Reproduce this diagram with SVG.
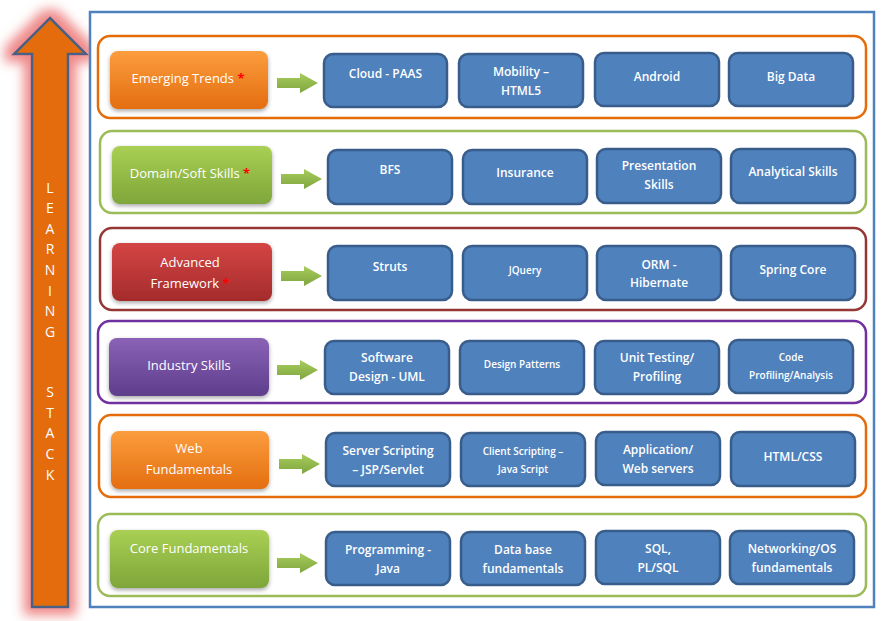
<svg xmlns="http://www.w3.org/2000/svg" width="887" height="621" viewBox="0 0 887 621">
<defs>
<style>
.band{fill:#fff;stroke-width:2.5}
.lbl{stroke:none;filter:url(#shadow)}
.lt{font-family:"Open Sans","Liberation Sans",sans-serif;font-size:13px;fill:#fff;text-anchor:middle}
.ast{fill:#ff0000;font-weight:bold}
.bb{fill:#4f81bd;stroke:#385d8a;stroke-width:2.5}
.bt{font-family:"Open Sans","Liberation Sans",sans-serif;font-size:12px;font-weight:600;fill:#fff;text-anchor:middle}
.bs{font-size:10px}
.arr{fill:url(#gArr)}
.stack{font-family:"Open Sans","Liberation Sans",sans-serif;font-size:14px;fill:#fff;text-anchor:middle}
</style>
<linearGradient id="gOr" x1="0" y1="0" x2="0" y2="1"><stop offset="0" stop-color="#fb9d3e"/><stop offset="1" stop-color="#e46e10"/></linearGradient>
<linearGradient id="gGr" x1="0" y1="0" x2="0" y2="1"><stop offset="0" stop-color="#a9cf53"/><stop offset="1" stop-color="#7ea63a"/></linearGradient>
<linearGradient id="gRd" x1="0" y1="0" x2="0" y2="1"><stop offset="0" stop-color="#d44545"/><stop offset="1" stop-color="#a42b2b"/></linearGradient>
<linearGradient id="gPu" x1="0" y1="0" x2="0" y2="1"><stop offset="0" stop-color="#8a62b6"/><stop offset="1" stop-color="#5e3e8c"/></linearGradient>
<linearGradient id="gArr" x1="0" y1="0" x2="0" y2="1"><stop offset="0" stop-color="#a8cc5c"/><stop offset="1" stop-color="#7ea53f"/></linearGradient>
<filter id="shadow" x="-10%" y="-20%" width="120%" height="150%">
<feDropShadow dx="0" dy="2" stdDeviation="2" flood-color="#000" flood-opacity="0.35"/>
</filter>
<filter id="glow" x="-70%" y="-10%" width="240%" height="120%">
<feMorphology in="SourceAlpha" operator="dilate" radius="7" result="d"/>
<feGaussianBlur in="d" stdDeviation="6" result="b"/>
<feFlood flood-color="#ee8282" flood-opacity="0.95"/>
<feComposite in2="b" operator="in" result="g"/>
<feMerge><feMergeNode in="g"/><feMergeNode in="SourceGraphic"/></feMerge>
</filter>
<path id="garrow" d="M0,-5 L23,-5 L23,-10 L41,0 L23,10 L23,5 L0,5 Z"/>
</defs>

<g id="learning-stack">
<path d="M50,18 L86,54 L68,54 L68,607 L32,607 L32,54 L14,54 Z" fill="#e46c0a" stroke="#4a6186" stroke-width="2.5" filter="url(#glow)"/>
<text class="stack" x="50" y="193">L</text>
<text class="stack" x="50" y="213">E</text>
<text class="stack" x="50" y="234">A</text>
<text class="stack" x="50" y="254">R</text>
<text class="stack" x="50" y="275">N</text>
<text class="stack" x="50" y="296">I</text>
<text class="stack" x="50" y="316">N</text>
<text class="stack" x="50" y="337">G</text>
<text class="stack" x="50" y="397">S</text>
<text class="stack" x="50" y="418">T</text>
<text class="stack" x="50" y="438">A</text>
<text class="stack" x="50" y="459">C</text>
<text class="stack" x="50" y="480">K</text>
</g>

<g id="frame">
<rect x="90" y="12" width="784" height="595" fill="#fff" stroke="#4f81bd" stroke-width="2.5"/>
</g>

<g id="band-emerging">
<rect class="band" x="98" y="36" width="768" height="82" rx="12" stroke="#e46c0a"/>
</g>
<g id="band-domain">
<rect class="band" x="100" y="131" width="766" height="82" rx="12" stroke="#9bbb59"/>
</g>
<g id="band-advanced">
<rect class="band" x="100" y="228" width="766" height="82" rx="12" stroke="#953735"/>
</g>
<g id="band-industry">
<rect class="band" x="98" y="321" width="768" height="82" rx="12" stroke="#7030a0"/>
</g>
<g id="band-web">
<rect class="band" x="99" y="415" width="767" height="82" rx="12" stroke="#e46c0a"/>
</g>
<g id="band-core">
<rect class="band" x="98" y="514" width="768" height="82" rx="12" stroke="#9bbb59"/>
</g>

<g id="label-emerging">
<rect class="lbl" x="110" y="51" width="158" height="58" rx="8" fill="url(#gOr)"/>
<text class="lt" x="188" y="83">Emerging Trends <tspan class="ast">*</tspan></text>
</g>
<g id="label-domain">
<rect class="lbl" x="112" y="146" width="160" height="58" rx="8" fill="url(#gGr)"/>
<text class="lt" x="190" y="178">Domain/Soft Skills <tspan class="ast">*</tspan></text>
</g>
<g id="label-advanced">
<rect class="lbl" x="112" y="243" width="160" height="58" rx="8" fill="url(#gRd)"/>
<text class="lt" x="190" y="267">Advanced</text>
<text class="lt" x="190" y="288">Framework <tspan class="ast">*</tspan></text>
</g>
<g id="label-industry">
<rect class="lbl" x="109" y="338" width="160" height="58" rx="8" fill="url(#gPu)"/>
<text class="lt" x="189" y="370">Industry Skills</text>
</g>
<g id="label-web">
<rect class="lbl" x="111" y="431" width="158" height="58" rx="8" fill="url(#gOr)"/>
<text class="lt" x="189" y="453">Web</text>
<text class="lt" x="189" y="474">Fundamentals</text>
</g>
<g id="label-core">
<rect class="lbl" x="110" y="530" width="159" height="58" rx="8" fill="url(#gGr)"/>
<text class="lt" x="189" y="553">Core Fundamentals</text>
</g>

<g id="connectors">
<use href="#garrow" class="arr" x="277" y="83"/>
<use href="#garrow" class="arr" x="281" y="179"/>
<use href="#garrow" class="arr" x="281" y="276"/>
<use href="#garrow" class="arr" x="277" y="370"/>
<use href="#garrow" class="arr" x="279" y="464"/>
<use href="#garrow" class="arr" x="277" y="563"/>
</g>

<g id="cloud-paas"><rect class="bb" x="324" y="54" width="123" height="53" rx="9"/><text class="bt" x="385.5" y="78">Cloud - PAAS</text></g>
<g id="mobility"><rect class="bb" x="459" y="54" width="124" height="53" rx="9"/><text class="bt" x="521" y="76">Mobility –</text><text class="bt" x="521" y="95">HTML5</text></g>
<g id="android"><rect class="bb" x="595" y="53" width="124" height="53" rx="9"/><text class="bt" x="657" y="81">Android</text></g>
<g id="big-data"><rect class="bb" x="729" y="53" width="124" height="53" rx="9"/><text class="bt" x="791" y="81">Big Data</text></g>

<g id="bfs"><rect class="bb" x="328" y="150" width="124" height="54" rx="9"/><text class="bt" x="390" y="174">BFS</text></g>
<g id="insurance"><rect class="bb" x="463" y="150" width="124" height="54" rx="9"/><text class="bt" x="525" y="177">Insurance</text></g>
<g id="presentation"><rect class="bb" x="597" y="149" width="124" height="54" rx="9"/><text class="bt" x="659" y="170">Presentation</text><text class="bt" x="659" y="189">Skills</text></g>
<g id="analytical"><rect class="bb" x="731" y="149" width="124" height="54" rx="9"/><text class="bt" x="793" y="176">Analytical Skills</text></g>

<g id="struts"><rect class="bb" x="328" y="246" width="124" height="54" rx="9"/><text class="bt" x="390" y="271">Struts</text></g>
<g id="jquery"><rect class="bb" x="463" y="246" width="124" height="54" rx="9"/><text class="bt bs" x="525" y="273.5">JQuery</text></g>
<g id="orm"><rect class="bb" x="597" y="246" width="124" height="54" rx="9"/><text class="bt" x="659" y="269">ORM -</text><text class="bt" x="659" y="287">Hibernate</text></g>
<g id="spring"><rect class="bb" x="731" y="246" width="124" height="54" rx="9"/><text class="bt" x="793" y="274">Spring Core</text></g>

<g id="software-design"><rect class="bb" x="325" y="341" width="124" height="53" rx="9"/><text class="bt" x="387" y="362">Software</text><text class="bt" x="387" y="381">Design - UML</text></g>
<g id="design-patterns"><rect class="bb" x="460" y="341" width="124" height="53" rx="9"/><text class="bt bs" x="522" y="367.5">Design Patterns</text></g>
<g id="unit-testing"><rect class="bb" x="595" y="341" width="124" height="53" rx="9"/><text class="bt" x="657" y="362">Unit Testing/</text><text class="bt" x="657" y="381">Profiling</text></g>
<g id="code-profiling"><rect class="bb" x="729" y="340" width="124" height="53" rx="9"/><text class="bt bs" x="791" y="360.5">Code</text><text class="bt bs" x="791" y="378.5">Profiling/Analysis</text></g>

<g id="server-scripting"><rect class="bb" x="326" y="433" width="124" height="53" rx="9"/><text class="bt" x="388" y="455">Server Scripting</text><text class="bt" x="388" y="474">– JSP/Servlet</text></g>
<g id="client-scripting"><rect class="bb" x="461" y="433" width="124" height="53" rx="9"/><text class="bt bs" x="523" y="454.5">Client Scripting  –</text><text class="bt bs" x="523" y="472.5">Java Script</text></g>
<g id="app-servers"><rect class="bb" x="596" y="432" width="124" height="53" rx="9"/><text class="bt" x="658" y="454">Application/</text><text class="bt" x="658" y="473">Web servers</text></g>
<g id="html-css"><rect class="bb" x="731" y="432" width="124" height="54" rx="9"/><text class="bt" x="793" y="461">HTML/CSS</text></g>

<g id="programming"><rect class="bb" x="326" y="532" width="124" height="53" rx="9"/><text class="bt" x="388" y="554">Programming -</text><text class="bt" x="388" y="573">Java</text></g>
<g id="database"><rect class="bb" x="461" y="532" width="124" height="53" rx="9"/><text class="bt" x="523" y="554">Data base</text><text class="bt" x="523" y="573">fundamentals</text></g>
<g id="sql"><rect class="bb" x="596" y="531" width="124" height="53" rx="9"/><text class="bt" x="658" y="553">SQL,</text><text class="bt" x="658" y="572">PL/SQL</text></g>
<g id="networking"><rect class="bb" x="730" y="531" width="124" height="53" rx="9"/><text class="bt" x="792" y="553">Networking/OS</text><text class="bt" x="792" y="572">fundamentals</text></g>
</svg>
